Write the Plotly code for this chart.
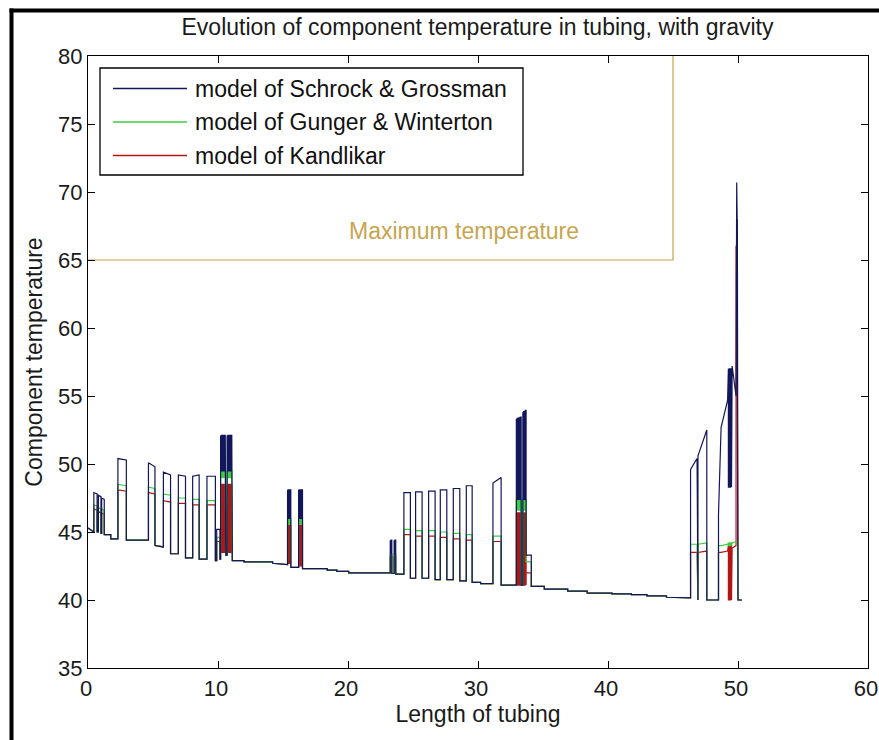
import plotly.graph_objects as go

# ---------------- data ----------------
tubing_length = [
    0.00, 0.45,
    0.45, 0.45, 0.70, 0.70,
    0.80, 0.80, 1.00, 1.00,
    1.05, 1.05, 1.25, 1.25,
    1.75, 1.75,
    2.30, 2.30, 2.95, 2.95,
    4.65, 4.65, 5.15, 5.15,
    5.80, 5.80, 6.35, 6.35,
    6.95, 6.95, 7.50, 7.50,
    8.05, 8.05, 8.55, 8.55,
    9.15, 9.15, 9.80, 9.80,
    9.90, 9.90, 10.15, 10.15,
    10.20, 10.20, 10.20, 10.26, 10.26, 10.32, 10.32, 10.38, 10.38, 10.44, 10.44, 10.50, 10.50, 10.56, 10.56, 10.60, 10.60, 10.60,
    10.70, 10.70, 10.70, 10.76, 10.76, 10.82, 10.82, 10.88, 10.88, 10.94, 10.94, 11.00, 11.00, 11.06, 11.06, 11.10, 11.10, 11.10,
    12.00, 12.00, 14.20, 14.20,
    15.35, 15.35, 15.35, 15.41, 15.41, 15.47, 15.47, 15.53, 15.53, 15.60, 15.60, 15.60,
    16.20, 16.20, 16.20, 16.27, 16.27, 16.34, 16.34, 16.42, 16.42, 16.50, 16.50, 16.50,
    18.40, 18.40, 19.15, 19.15, 20.05, 20.05,
    23.25, 23.25, 23.25, 23.31, 23.31, 23.37, 23.37, 23.37,
    23.55, 23.55, 23.55, 23.61, 23.61, 23.67, 23.67, 23.67,
    24.30, 24.30, 24.80, 24.80,
    25.20, 25.20, 25.70, 25.70,
    26.20, 26.20, 26.70, 26.70,
    27.10, 27.10, 27.60, 27.60,
    28.10, 28.10, 28.60, 28.60,
    29.10, 29.10, 29.55, 29.55,
    30.20, 30.20,
    31.15, 31.15, 31.78, 31.78,
    32.95, 32.95, 32.95, 33.01, 33.01, 33.07, 33.07, 33.13, 33.13, 33.19, 33.19, 33.25, 33.25, 33.32, 33.32, 33.32,
    33.45, 33.45, 33.45, 33.51, 33.51, 33.57, 33.57, 33.63, 33.63, 33.70, 33.70,
    33.70, 34.10, 34.10,
    35.10, 35.10, 36.90, 36.90, 38.40, 38.40, 40.30, 40.30, 41.80, 41.80, 43.00, 43.00, 44.50, 44.50,
    46.35, 46.35, 46.85, 46.88, 46.92, 46.92, 47.60, 47.60,
    48.50, 48.50, 48.70, 49.20,
    49.26, 49.26, 49.32, 49.32, 49.38, 49.38, 49.44, 49.44, 49.50, 49.50,
    49.55, 49.85, 49.85, 49.90, 49.95, 49.95, 50.00, 50.30,
]

temp_schrock = [
    45.3, 45.0,
    45.0, 47.9, 47.8, 45.0,
    45.0, 47.7, 47.6, 44.9,
    44.9, 47.5, 47.4, 44.8,
    44.8, 44.5,
    44.5, 50.4, 50.3, 44.4,
    44.4, 50.1, 49.8, 44.0,
    43.9, 49.4, 49.2, 43.4,
    43.4, 49.2, 49.1, 43.1,
    43.1, 49.1, 49.2, 43.0,
    43.0, 49.1, 49.1, 42.9,
    42.9, 45.2, 45.2, 43.0,
    43.0, 52.1, 49.5, 49.5, 52.1, 52.1, 49.5, 49.5, 52.1, 52.1, 49.5, 49.5, 52.1, 52.1, 49.5, 49.5, 52.1, 43.3,
    43.3, 52.1, 49.5, 49.5, 52.1, 52.1, 49.5, 49.5, 52.1, 52.1, 49.5, 49.5, 52.1, 52.1, 49.5, 49.5, 52.1, 42.9,
    42.9, 42.8, 42.8, 42.7,
    42.6, 48.1, 46.0, 46.0, 48.1, 48.1, 46.0, 46.0, 48.1, 48.1, 46.0, 42.4,
    42.4, 48.1, 46.0, 46.0, 48.1, 48.1, 46.0, 46.0, 48.1, 48.1, 46.0, 42.3,
    42.3, 42.2, 42.2, 42.1, 42.1, 42.0,
    42.0, 44.4, 43.4, 43.4, 44.4, 44.4, 43.4, 41.95,
    41.95, 44.4, 43.4, 43.4, 44.4, 44.4, 43.4, 41.9,
    41.9, 47.9, 47.9, 41.6,
    41.6, 47.95, 47.95, 41.6,
    41.6, 48.0, 48.0, 41.5,
    41.5, 48.1, 48.1, 41.5,
    41.5, 48.2, 48.2, 41.4,
    41.4, 48.4, 48.4, 41.3,
    41.3, 41.2,
    41.2, 48.6, 49.0, 41.1,
    41.1, 53.3, 47.4, 47.4, 53.35, 53.35, 47.4, 47.4, 53.4, 53.4, 47.4, 47.4, 53.45, 53.45, 47.4, 41.1,
    41.1, 53.8, 47.4, 47.4, 53.85, 53.85, 47.4, 47.4, 53.95, 53.95, 47.4,
    43.3, 43.3, 41.0,
    41.0, 40.8, 40.8, 40.65, 40.65, 40.5, 40.5, 40.45, 40.45, 40.4, 40.4, 40.3, 40.3, 40.2,
    40.15, 49.6, 50.4, 40.0, 40.0, 50.6, 52.5, 40.0,
    40.0, 46.3, 52.7, 54.7,
    57.0, 48.3, 48.3, 57.0, 57.0, 48.3, 48.3, 57.0, 57.0, 48.3,
    57.2, 55.0, 67.0, 70.7, 67.0, 68.0, 40.0, 40.0,
]

temp_gunger = [
    45.3, 45.0,
    45.0, 47.0, 46.9, 45.0,
    45.0, 46.8, 46.7, 44.9,
    44.9, 46.7, 46.6, 44.8,
    44.8, 44.5,
    44.5, 48.5, 48.4, 44.4,
    44.4, 48.3, 48.2, 44.0,
    43.9, 47.8, 47.7, 43.4,
    43.4, 47.5, 47.5, 43.1,
    43.1, 47.4, 47.4, 43.0,
    43.0, 47.3, 47.3, 42.9,
    42.9, 44.6, 44.6, 43.0,
    43.0, 49.5, 49.0, 49.0, 49.5, 49.5, 49.0, 49.0, 49.5, 49.5, 49.0, 49.0, 49.5, 49.5, 49.0, 49.0, 49.5, 43.3,
    43.3, 49.5, 49.0, 49.0, 49.5, 49.5, 49.0, 49.0, 49.5, 49.5, 49.0, 49.0, 49.5, 49.5, 49.0, 49.0, 49.5, 42.9,
    42.9, 42.8, 42.8, 42.7,
    42.6, 46.0, 45.6, 45.6, 46.0, 46.0, 45.6, 45.6, 46.0, 46.0, 45.6, 42.4,
    42.4, 46.0, 45.6, 45.6, 46.0, 46.0, 45.6, 45.6, 46.0, 46.0, 45.6, 42.3,
    42.3, 42.2, 42.2, 42.1, 42.1, 42.0,
    42.0, 43.4, 43.3, 43.3, 43.4, 43.4, 43.3, 41.95,
    41.95, 43.4, 43.3, 43.3, 43.4, 43.4, 43.3, 41.9,
    41.9, 45.2, 45.2, 41.6,
    41.6, 45.1, 45.1, 41.6,
    41.6, 45.1, 45.1, 41.5,
    41.5, 45.0, 45.0, 41.5,
    41.5, 44.9, 44.9, 41.4,
    41.4, 44.8, 44.8, 41.3,
    41.3, 41.2,
    41.2, 44.7, 44.7, 41.1,
    41.1, 47.4, 46.6, 46.6, 47.4, 47.4, 46.6, 46.6, 47.4, 47.4, 46.6, 46.6, 47.4, 47.4, 46.6, 41.1,
    41.1, 47.4, 46.6, 46.6, 47.4, 47.4, 46.6, 46.6, 47.4, 47.4, 46.6,
    42.8, 42.8, 41.0,
    41.0, 40.8, 40.8, 40.65, 40.65, 40.5, 40.5, 40.45, 40.45, 40.4, 40.4, 40.3, 40.3, 40.2,
    40.15, 44.1, 44.1, 40.0, 40.0, 44.1, 44.2, 40.0,
    40.0, 44.0, 44.0, 44.1,
    44.2, 44.0, 44.0, 44.2, 44.2, 44.0, 44.0, 44.2, 44.2, 44.0,
    44.2, 44.3, 44.3, 44.3, 44.3, 44.3, 40.0, 40.0,
]

temp_kandlikar = [
    45.3, 45.0,
    45.0, 46.7, 46.6, 45.0,
    45.0, 46.5, 46.4, 44.9,
    44.9, 46.4, 46.3, 44.8,
    44.8, 44.5,
    44.5, 48.1, 48.0, 44.4,
    44.4, 47.9, 47.8, 44.0,
    43.9, 47.3, 47.2, 43.4,
    43.4, 47.1, 47.1, 43.1,
    43.1, 47.0, 47.0, 43.0,
    43.0, 47.0, 47.0, 42.9,
    42.9, 44.3, 44.3, 43.0,
    43.0, 48.5, 43.5, 43.5, 48.5, 48.5, 43.5, 43.5, 48.5, 48.5, 43.5, 43.5, 48.5, 48.5, 43.5, 43.5, 48.5, 43.3,
    43.3, 48.5, 43.5, 43.5, 48.5, 48.5, 43.5, 43.5, 48.5, 48.5, 43.5, 43.5, 48.5, 48.5, 43.5, 43.5, 48.5, 42.9,
    42.9, 42.8, 42.8, 42.7,
    42.6, 45.5, 42.7, 42.7, 45.5, 45.5, 42.7, 42.7, 45.5, 45.5, 42.7, 42.4,
    42.4, 45.5, 42.5, 42.5, 45.5, 45.5, 42.5, 42.5, 45.5, 45.5, 42.5, 42.3,
    42.3, 42.2, 42.2, 42.1, 42.1, 42.0,
    42.0, 43.2, 42.0, 42.0, 43.2, 43.2, 42.0, 41.95,
    41.95, 43.2, 42.0, 42.0, 43.2, 43.2, 42.0, 41.9,
    41.9, 44.8, 44.8, 41.6,
    41.6, 44.7, 44.7, 41.6,
    41.6, 44.7, 44.7, 41.5,
    41.5, 44.6, 44.6, 41.5,
    41.5, 44.5, 44.5, 41.4,
    41.4, 44.4, 44.4, 41.3,
    41.3, 41.2,
    41.2, 44.3, 44.3, 41.1,
    41.1, 46.4, 41.1, 41.1, 46.4, 46.4, 41.1, 41.1, 46.4, 46.4, 41.1, 41.1, 46.4, 46.4, 41.1, 41.1,
    41.1, 46.4, 41.1, 41.1, 46.4, 46.4, 41.1, 41.1, 46.4, 46.4, 41.1,
    42.0, 42.0, 41.0,
    41.0, 40.8, 40.8, 40.65, 40.65, 40.5, 40.5, 40.45, 40.45, 40.4, 40.4, 40.3, 40.3, 40.2,
    40.15, 43.5, 43.5, 40.0, 40.0, 43.5, 43.6, 40.0,
    40.0, 43.5, 43.5, 43.6,
    44.0, 40.0, 40.0, 44.0, 44.0, 40.0, 40.0, 44.0, 44.0, 40.0,
    43.8, 44.0, 66.0, 66.0, 54.8, 44.0, 40.0, 40.0,
]

series_names = ["model of Schrock & Grossman", "model of Gunger & Winterton", "model of Kandlikar"]
series_colors = ["#12165a", "#3ccf3c", "#b31515"]

max_temp_x = [0, 45, 45]
max_temp_y = [65, 65, 80]
max_temp_label = "Maximum temperature"

x_ticks = [0, 10, 20, 30, 40, 50, 60]
y_ticks = [35, 40, 45, 50, 55, 60, 65, 70, 75, 80]

# ---------------- figure ----------------
FONT = "Liberation Sans, Arial, sans-serif"
fig = go.Figure()

series = list(zip(series_names, [temp_schrock, temp_gunger, temp_kandlikar], series_colors))
# drawn so that the Schrock & Grossman outline lies on top
for name, ys, col in reversed(series):
    fig.add_trace(go.Scatter(x=tubing_length, y=ys, mode="lines", name=name,
                             line=dict(color=col, width=1.2), showlegend=False))

fig.add_trace(go.Scatter(x=max_temp_x, y=max_temp_y, mode="lines",
                         line=dict(color="#c7a54e", width=1.2), showlegend=False))
fig.add_annotation(x=28.9, y=67.1, text=max_temp_label, showarrow=False,
                   font=dict(family=FONT, size=23, color="#c7a54e"))

# manual legend (MATLAB-style long line samples)
L, R, T, B = 100, 523, 68, 175
def px(x):
    return (x - 88) / 780
def py(y):
    return (668 - y) / 612
fig.add_shape(type="rect", xref="paper", yref="paper", x0=px(L), x1=px(R), y0=py(B), y1=py(T),
              line=dict(color="black", width=1.3), fillcolor="white", layer="above")
for i, (name, col) in enumerate(zip(series_names, series_colors)):
    yy = 88.5 + i * 33.5
    fig.add_shape(type="line", xref="paper", yref="paper", x0=px(113), x1=px(187), y0=py(yy), y1=py(yy),
                  line=dict(color=col, width=1.3), layer="above")
    fig.add_annotation(xref="paper", yref="paper", x=px(193), y=py(yy), text=name, showarrow=False,
                       xanchor="left", yanchor="middle", font=dict(family=FONT, size=23, color="#111"))

# outer frame of the screenshot (left and top black border)
fig.add_shape(type="line", xref="paper", yref="paper", x0=px(11.5), x1=px(11.5), y0=py(8.5), y1=py(760),
              line=dict(color="black", width=4))
fig.add_shape(type="line", xref="paper", yref="paper", x0=px(9.5), x1=px(900), y0=py(10.5), y1=py(10.5),
              line=dict(color="black", width=4))

axis_common = dict(showline=True, linecolor="black", linewidth=1.2, mirror="allticks",
                   ticks="inside", ticklen=7, tickcolor="black", showgrid=False, zeroline=False,
                   ticklabeloverflow="allow", automargin=False,
                   tickfont=dict(family=FONT, size=22, color="#1a1a1a"))
fig.update_xaxes(range=[0, 60], tickvals=x_ticks, ticklabelshift=-2, **axis_common,
                 title=dict(text="Length of tubing", font=dict(family=FONT, size=23, color="#1a1a1a"), standoff=6))
fig.update_yaxes(range=[35, 80], tickvals=y_ticks, **axis_common,
                 title=dict(text="Component temperature", font=dict(family=FONT, size=23, color="#1a1a1a"), standoff=8))

fig.update_layout(
    width=879, height=740,
    margin=dict(l=88, r=11, t=56, b=72, pad=0, autoexpand=False),
    paper_bgcolor="white", plot_bgcolor="white",
    title=dict(text="Evolution of component temperature in tubing, with gravity",
               x=0.5432, xanchor="center", y=1 - 27 / 740, yanchor="middle",
               font=dict(family=FONT, size=23, color="#1a1a1a")),
    showlegend=False,
)

fig.write_html("out.html")
